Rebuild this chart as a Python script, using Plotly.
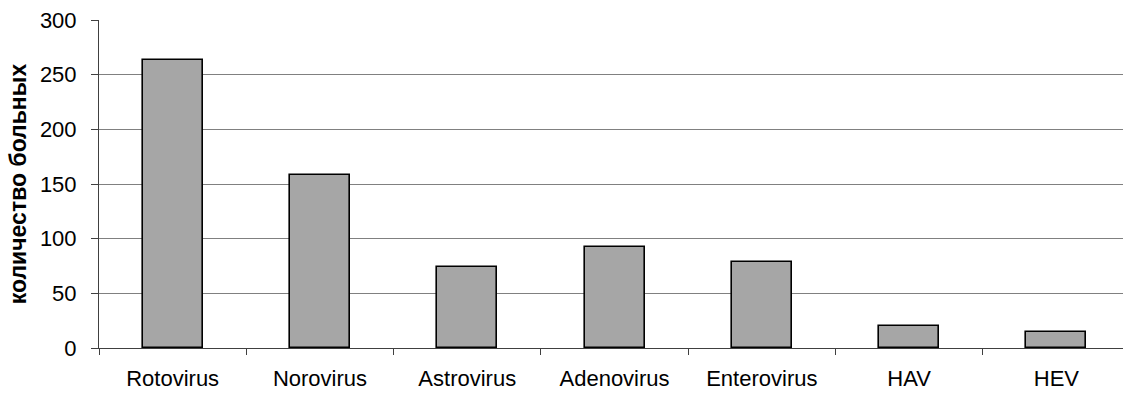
import plotly.graph_objects as go

categories = ["Rotovirus", "Norovirus", "Astrovirus", "Adenovirus", "Enterovirus", "HAV", "HEV"]
patients = [263, 158, 74, 92, 79, 20, 15]
y_ticks = [0, 50, 100, 150, 200, 250, 300]

font_family = "Liberation Sans, Arial, sans-serif"

fig = go.Figure(
    go.Bar(
        x=categories,
        y=patients,
        width=0.407,
        marker=dict(color="#a6a6a6", line=dict(color="#000000", width=1.6)),
    )
)

fig.update_layout(
    width=1123,
    height=393,
    margin=dict(l=99, r=0, t=20, b=45),
    paper_bgcolor="white",
    plot_bgcolor="white",
    showlegend=False,
    font=dict(family=font_family, size=22, color="black"),
    bargap=0,
)

fig.update_xaxes(
    range=[-0.5, 6.452],
    tickson="boundaries",
    ticks="outside",
    ticklen=6,
    tickcolor="#404040",
    showline=True,
    linecolor="#404040",
    linewidth=1,
    showgrid=False,
    tickfont=dict(size=22),
    ticklabelstandoff=11,
)

fig.update_yaxes(
    range=[0, 300],
    tickvals=y_ticks,
    ticks="outside",
    ticklen=7,
    tickcolor="#404040",
    showline=True,
    linecolor="#404040",
    linewidth=1,
    showgrid=True,
    gridcolor="#808080",
    gridwidth=1,
    zeroline=False,
    tickfont=dict(size=22),
    ticklabelstandoff=10,
    title=dict(
        text="<b>количество больных</b>",
        font=dict(size=23),
        standoff=6,
    ),
)

fig.write_html("out.html")
